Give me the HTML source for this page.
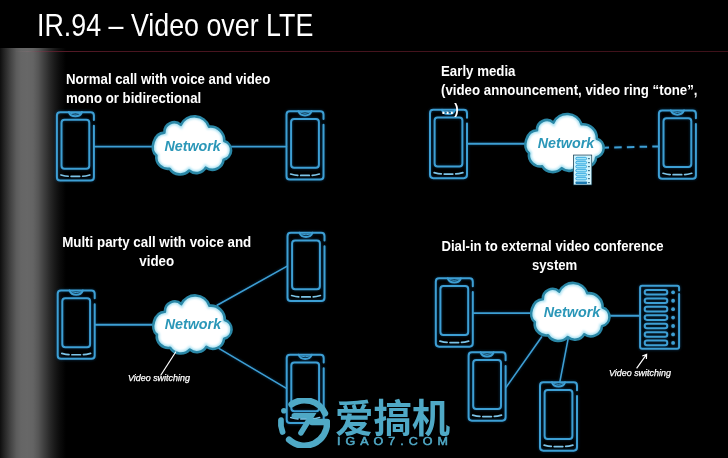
<!DOCTYPE html>
<html><head><meta charset="utf-8"><title>IR.94 – Video over LTE</title>
<style>
html,body{margin:0;padding:0;background:#000;}
body{width:728px;height:458px;overflow:hidden;position:relative;font-family:"Liberation Sans",sans-serif;color:#fff;}
.grad{position:absolute;left:0;top:47.8px;width:70px;height:410px;background:linear-gradient(to right,#0e0e0e 0,#282828 5px,#454545 11px,#5c5c5c 16.5px,#656565 21px,#676767 27px,#646464 33px,#555 38.5px,#3f3f3f 44px,#2a2a2a 49.5px,#181818 55px,#0b0b0b 60px,#000 66px);}
.gradtop{display:none}
.red{position:absolute;left:0;top:50.55px;width:728px;height:1px;background:linear-gradient(to right,rgba(140,110,118,0) 14px,rgba(135,112,118,.4) 28px,rgba(112,52,68,.7) 44px,#561a27 58px,#4a1520 120px,#3e1119 100%);filter:blur(.3px);}
.t{position:absolute;white-space:nowrap;transform-origin:0 0;}
.title{left:37.4px;top:6.8px;font-size:32px;line-height:37px;transform:scaleX(.838);}
.b{font-weight:bold;font-size:15.5px;line-height:19.4px;}
.net{position:absolute;font-weight:bold;font-style:italic;font-size:14.3px;line-height:16px;color:#2b97b8;white-space:nowrap;width:80px;text-align:center;}
.vs{font-style:italic;font-size:9.2px;line-height:12px;transform:scaleX(.972);-webkit-text-stroke:.25px #fff;}
.wm{position:absolute;left:337.3px;top:435.2px;font-weight:normal;-webkit-text-stroke:.5px #50a9c6;font-size:10.4px;line-height:13px;letter-spacing:4.2px;color:#50a9c6;white-space:nowrap;transform-origin:0 0;transform:scaleX(1.2);}
</style></head>
<body>
<div class="grad"></div><div class="gradtop"></div><div class="red"></div>
<svg width="728" height="458" viewBox="0 0 728 458" style="position:absolute;left:0;top:0"><defs><g id="phone" fill="none"><path d="M18.50,-26.35 V-30.85 Q18.50,-34.15 15.20,-34.15 H-15.20 Q-18.50,-34.15 -18.50,-30.85 V30.85 Q-18.50,34.15 -15.20,34.15 H15.20 Q18.50,34.15 18.50,30.85 V-20.55"/><rect x="-13.90" y="-26.45" width="27.80" height="48.90" rx="3"/><path d="M-6.60,-34.15 Q-5.00,-29.95 0,-29.95 Q5,-29.95 6.6,-34.15"/><path d="M-4.20,-32.75 Q0,-31.35 4.2,-32.75" stroke-width="1"/></g><g id="btn" fill="none"><path d="M-14.40,28.65 Q-10.00,29.85 -7.20,29.95"/><path d="M-4.30,30.05 H4.3"/><path d="M14.40,28.65 Q10.00,29.85 7.20,29.95"/></g><path id="cloud" d="M-35.60,10.20 C-43.00,4.70 -38.50,-12.30 -27.60,-12.70 A9.8,9.8 0 0 1 -11.20,-20.40 A15.3,15.3 0 0 1 17.00,-18.70 A14.0,14.0 0 0 1 32.30,-4.30 A9.7,9.7 0 0 1 31.60,14.40 A11.3,11.3 0 0 1 13.80,22.40 A11.0,11.0 0 0 1 -2.80,25.20 A12.5,12.5 0 0 1 -22.40,23.40 A11.6,11.6 0 0 1 -35.60,10.20Z"/><filter id="soft" x="-5%" y="-5%" width="110%" height="110%"><feGaussianBlur stdDeviation="0.45"/></filter><filter id="glow" x="-5%" y="-5%" width="110%" height="110%"><feGaussianBlur stdDeviation="0.9"/></filter><radialGradient id="cg" cx="50%" cy="50%" r="55%"><stop offset="0.6" stop-color="#ffffff"/><stop offset="1" stop-color="#d8f6fc"/></radialGradient><clipPath id="cc"><use href="#cloud"/></clipPath><filter id="cblur" x="-10%" y="-10%" width="120%" height="120%"><feGaussianBlur stdDeviation="1.3"/></filter></defs><g stroke="#10507f" stroke-width="3.2" fill="none" stroke-linecap="round" stroke-linejoin="round" filter="url(#glow)" opacity="0.45"><use href="#phone" x="75.4" y="146.3"/><use href="#phone" x="305" y="145.4"/><use href="#phone" x="448.5" y="144"/><use href="#phone" x="677.4" y="144.6"/><use href="#phone" x="76.2" y="324.7"/><use href="#phone" x="306.0" y="266.9"/><use href="#phone" x="305.2" y="388.9"/><use href="#phone" x="454.3" y="312.5"/><use href="#phone" x="487.1" y="386.5"/><use href="#phone" x="558.5" y="416.5"/><path d="M94.3,146.6 L153,146.6" stroke-width="3.04"/><path d="M231,146.6 L286.3,146.6" stroke-width="3.04"/><path d="M467.2,143.8 L526,143.8" stroke-width="3.04"/><path d="M94.9,324.8 L153.5,324.8" stroke-width="3.04"/><path d="M217.1,305.2 L287.2,266.1" stroke-width="2.50"/><path d="M218.4,348.2 L286.4,388.4" stroke-width="2.50"/><path d="M473.7,313.1 L531.4,313.1" stroke-width="3.04"/><path d="M609.5,315.7 L640,315.7" stroke-width="3.04"/><path d="M541.6,337 L505.9,387.6" stroke-width="2.50"/><path d="M568.2,338.4 L559.8,382.2" stroke-width="2.50"/><path d="M604,147.7 L658.6,146.4" stroke-dasharray="7.5 5.2" stroke-dashoffset="2.5" stroke-linecap="butt"/><path d="M679.10,290.40 V287.80 Q679.10,285.80 677.10,285.80 H642.10 Q640.10,285.80 640.10,287.80 V346.80 Q640.10,348.80 642.10,348.80 H677.10 Q679.10,348.80 679.10,346.80 V294.00" fill="none"/><rect x="644.70" y="290.00" width="22.6" height="4.6" rx="2.3" fill="none"/><circle cx="673.10" cy="292.30" r="1.9" fill="#3e9fd4" stroke="none"/><rect x="644.70" y="298.43" width="22.6" height="4.6" rx="2.3" fill="none"/><circle cx="673.10" cy="300.73" r="1.9" fill="#3e9fd4" stroke="none"/><rect x="644.70" y="306.86" width="22.6" height="4.6" rx="2.3" fill="none"/><circle cx="673.10" cy="309.16" r="1.9" fill="#3e9fd4" stroke="none"/><rect x="644.70" y="315.29" width="22.6" height="4.6" rx="2.3" fill="none"/><circle cx="673.10" cy="317.59" r="1.9" fill="#3e9fd4" stroke="none"/><rect x="644.70" y="323.72" width="22.6" height="4.6" rx="2.3" fill="none"/><circle cx="673.10" cy="326.02" r="1.9" fill="#3e9fd4" stroke="none"/><rect x="644.70" y="332.15" width="22.6" height="4.6" rx="2.3" fill="none"/><circle cx="673.10" cy="334.45" r="1.9" fill="#3e9fd4" stroke="none"/><rect x="644.70" y="340.58" width="22.6" height="4.6" rx="2.3" fill="none"/><circle cx="673.10" cy="342.88" r="1.9" fill="#3e9fd4" stroke="none"/></g><g stroke="#3e9fd4" stroke-width="2.0" fill="none" stroke-linecap="round" stroke-linejoin="round" filter="url(#soft)" opacity="1"><use href="#phone" x="75.4" y="146.3"/><use href="#phone" x="305" y="145.4"/><use href="#phone" x="448.5" y="144"/><use href="#phone" x="677.4" y="144.6"/><use href="#phone" x="76.2" y="324.7"/><use href="#phone" x="306.0" y="266.9"/><use href="#phone" x="305.2" y="388.9"/><use href="#phone" x="454.3" y="312.5"/><use href="#phone" x="487.1" y="386.5"/><use href="#phone" x="558.5" y="416.5"/><path d="M94.3,146.6 L153,146.6" stroke-width="1.90"/><path d="M231,146.6 L286.3,146.6" stroke-width="1.90"/><path d="M467.2,143.8 L526,143.8" stroke-width="1.90"/><path d="M94.9,324.8 L153.5,324.8" stroke-width="1.90"/><path d="M217.1,305.2 L287.2,266.1" stroke-width="1.56"/><path d="M218.4,348.2 L286.4,388.4" stroke-width="1.56"/><path d="M473.7,313.1 L531.4,313.1" stroke-width="1.90"/><path d="M609.5,315.7 L640,315.7" stroke-width="1.90"/><path d="M541.6,337 L505.9,387.6" stroke-width="1.56"/><path d="M568.2,338.4 L559.8,382.2" stroke-width="1.56"/><path d="M604,147.7 L658.6,146.4" stroke-dasharray="7.5 5.2" stroke-dashoffset="2.5" stroke-linecap="butt"/><path d="M679.10,290.40 V287.80 Q679.10,285.80 677.10,285.80 H642.10 Q640.10,285.80 640.10,287.80 V346.80 Q640.10,348.80 642.10,348.80 H677.10 Q679.10,348.80 679.10,346.80 V294.00" fill="none"/><rect x="644.70" y="290.00" width="22.6" height="4.6" rx="2.3" fill="none"/><circle cx="673.10" cy="292.30" r="1.9" fill="#3e9fd4" stroke="none"/><rect x="644.70" y="298.43" width="22.6" height="4.6" rx="2.3" fill="none"/><circle cx="673.10" cy="300.73" r="1.9" fill="#3e9fd4" stroke="none"/><rect x="644.70" y="306.86" width="22.6" height="4.6" rx="2.3" fill="none"/><circle cx="673.10" cy="309.16" r="1.9" fill="#3e9fd4" stroke="none"/><rect x="644.70" y="315.29" width="22.6" height="4.6" rx="2.3" fill="none"/><circle cx="673.10" cy="317.59" r="1.9" fill="#3e9fd4" stroke="none"/><rect x="644.70" y="323.72" width="22.6" height="4.6" rx="2.3" fill="none"/><circle cx="673.10" cy="326.02" r="1.9" fill="#3e9fd4" stroke="none"/><rect x="644.70" y="332.15" width="22.6" height="4.6" rx="2.3" fill="none"/><circle cx="673.10" cy="334.45" r="1.9" fill="#3e9fd4" stroke="none"/><rect x="644.70" y="340.58" width="22.6" height="4.6" rx="2.3" fill="none"/><circle cx="673.10" cy="342.88" r="1.9" fill="#3e9fd4" stroke="none"/></g><g stroke="#7cc4e8" stroke-width="1.7" fill="none" stroke-linecap="round" filter="url(#soft)"><use href="#btn" x="75.4" y="146.3"/><use href="#btn" x="305" y="145.4"/><use href="#btn" x="448.5" y="144"/><use href="#btn" x="677.4" y="144.6"/><use href="#btn" x="76.2" y="324.7"/><use href="#btn" x="306.0" y="266.9"/><use href="#btn" x="305.2" y="388.9"/><use href="#btn" x="454.3" y="312.5"/><use href="#btn" x="487.1" y="386.5"/><use href="#btn" x="558.5" y="416.5"/></g><g transform="translate(192,145.3)"><use href="#cloud" fill="#fff"/><g clip-path="url(#cc)"><use href="#cloud" fill="none" stroke="#a8e2f3" stroke-width="5.5" filter="url(#cblur)"/></g><use href="#cloud" fill="none" stroke="#2a87a6" stroke-width="2.6" stroke-linejoin="round" filter="url(#soft)"/></g><g transform="translate(564.6,143)"><use href="#cloud" fill="#fff"/><g clip-path="url(#cc)"><use href="#cloud" fill="none" stroke="#a8e2f3" stroke-width="5.5" filter="url(#cblur)"/></g><use href="#cloud" fill="none" stroke="#2a87a6" stroke-width="2.6" stroke-linejoin="round" filter="url(#soft)"/></g><g transform="translate(192.5,324.4)"><use href="#cloud" fill="#fff"/><g clip-path="url(#cc)"><use href="#cloud" fill="none" stroke="#a8e2f3" stroke-width="5.5" filter="url(#cblur)"/></g><use href="#cloud" fill="none" stroke="#2a87a6" stroke-width="2.6" stroke-linejoin="round" filter="url(#soft)"/></g><g transform="translate(570.4,311.9)"><use href="#cloud" fill="#fff"/><g clip-path="url(#cc)"><use href="#cloud" fill="none" stroke="#a8e2f3" stroke-width="5.5" filter="url(#cblur)"/></g><use href="#cloud" fill="none" stroke="#2a87a6" stroke-width="2.6" stroke-linejoin="round" filter="url(#soft)"/></g><g filter="url(#soft)"><rect x="573.0999999999999" y="154.70000000000002" width="19.0" height="30.599999999999998" fill="#0c3448"/><rect x="573.8" y="155.4" width="17.6" height="29.2" fill="#d2f4fd"/><rect x="575.80" y="157.30" width="10.8" height="2.6" rx="1.3" fill="#a4e4f8" stroke="#2ba4dc" stroke-width="0.9"/><rect x="588.20" y="158.00" width="1.5" height="1.2" fill="#1c5874"/><rect x="575.80" y="161.30" width="10.8" height="2.6" rx="1.3" fill="#a4e4f8" stroke="#2ba4dc" stroke-width="0.9"/><rect x="588.20" y="162.00" width="1.5" height="1.2" fill="#1c5874"/><rect x="575.80" y="165.30" width="10.8" height="2.6" rx="1.3" fill="#a4e4f8" stroke="#2ba4dc" stroke-width="0.9"/><rect x="588.20" y="166.00" width="1.5" height="1.2" fill="#1c5874"/><rect x="575.80" y="169.30" width="10.8" height="2.6" rx="1.3" fill="#a4e4f8" stroke="#2ba4dc" stroke-width="0.9"/><rect x="588.20" y="170.00" width="1.5" height="1.2" fill="#1c5874"/><rect x="575.80" y="173.30" width="10.8" height="2.6" rx="1.3" fill="#a4e4f8" stroke="#2ba4dc" stroke-width="0.9"/><rect x="588.20" y="174.00" width="1.5" height="1.2" fill="#1c5874"/><rect x="575.80" y="177.30" width="10.8" height="2.6" rx="1.3" fill="#a4e4f8" stroke="#2ba4dc" stroke-width="0.9"/><rect x="588.20" y="178.00" width="1.5" height="1.2" fill="#1c5874"/><rect x="575.40" y="181.60" width="11.8" height="2.3" rx="0.8" fill="#1a7ab2"/><rect x="588.20" y="182.00" width="1.5" height="1.2" fill="#1c5874"/></g><g stroke="#fff" stroke-width="1.2" fill="none" filter="url(#soft)"><path d="M176,351.5 L160.6,375.5"/><path d="M636.6,368.4 L646.6,354.4 M642.3,356 L646.6,354.4 L646.4,359"/></g><g stroke="#50a9c6" stroke-width="6.3" fill="none" stroke-linecap="round" stroke-linejoin="round" filter="url(#soft)"><path d="M291.48,404.41 A22.7,22.7 0 0 1 325.07,413.41"/><path d="M312,422 H327.1 A22.7,22.7 0 0 1 289.02,439.60"/><path d="M282.53,431.88 A23.7,23.7 0 0 1 280.98,420.11" stroke-width="5.8"/><path d="M294.2,415.8 H311.6 L300.9,433" stroke-width="5.4" stroke-linejoin="miter"/><circle cx="283.9" cy="410.8" r="2.8" stroke="none" fill="#50a9c6"/></g><g fill="#50a9c6" filter="url(#soft)"><text x="335" y="431.9" font-size="38.4" font-weight="bold" fill="#50a9c6" textLength="115.2" lengthAdjust="spacingAndGlyphs" style="font-family:'Liberation Sans','Noto Sans CJK SC',sans-serif">爱搞机</text></g></svg>
<div class="t title">IR.94 – Video over LTE</div>
<div class="t b" style="left:65.9px;top:68.9px;transform:scaleX(.853)">Normal call with voice and video<br>mono or bidirectional</div>
<div class="t b" style="left:441.1px;top:61.2px;line-height:19.1px;transform:scaleX(.856)">Early media<br>(video announcement, video ring “tone”,<br>…)</div>
<div class="t b" style="left:61.6px;top:231.9px;line-height:19px;width:220px;text-align:center;transform:scaleX(.861)">Multi party call with voice and<br>video</div>
<div class="t b" style="left:441px;top:235.6px;width:263px;text-align:center;transform:scaleX(.848)">Dial-in to external video conference<br><span style="margin-left:5px">system</span></div>
<div class="net" style="left:152.6px;top:137.6px">Network</div>
<div class="net" style="left:526px;top:135.4px">Network</div>
<div class="net" style="left:152.9px;top:315.6px">Network</div>
<div class="net" style="left:532px;top:304.2px">Network</div>
<div class="t vs" style="left:128.4px;top:371.6px">Video switching</div>
<div class="t vs" style="left:608.6px;top:367.4px">Video switching</div>
<div class="wm">IGAO7.COM</div>
</body></html>
